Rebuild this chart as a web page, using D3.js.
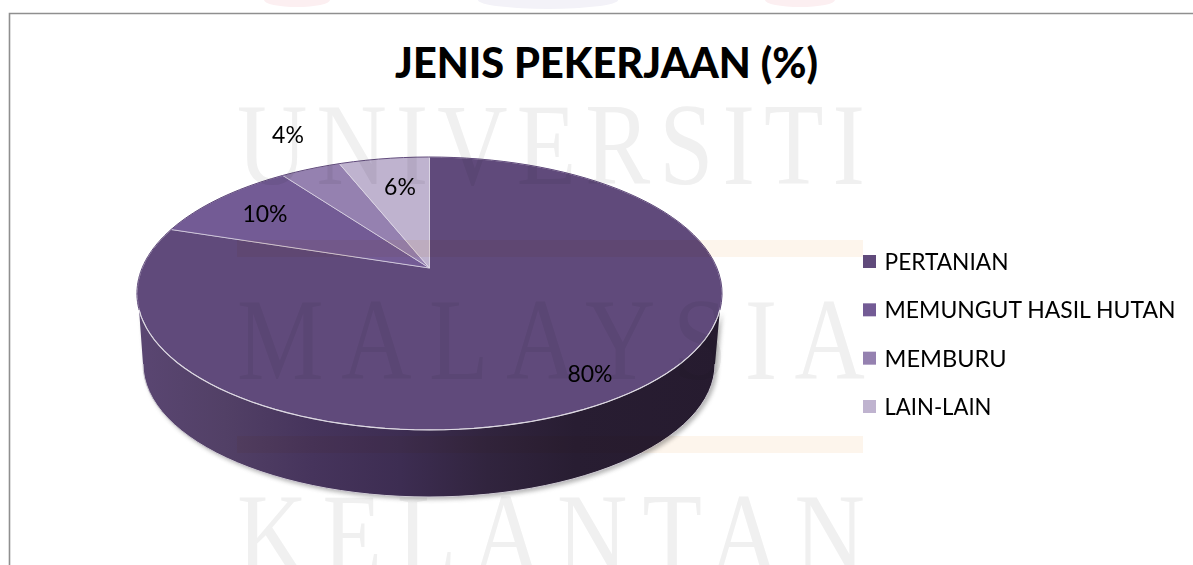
<!DOCTYPE html>
<html><head><meta charset="utf-8">
<script src="https://cdn.jsdelivr.net/npm/d3@7/dist/d3.min.js"></script>
<style>html,body{margin:0;padding:0;background:#fff;overflow:hidden}svg{display:block}</style>
</head><body><div id="c"></div>
<script>
const titleText = "JENIS PEKERJAAN (%)";
const categories = ["PERTANIAN","MEMUNGUT HASIL HUTAN","MEMBURU","LAIN-LAIN"];
const values = [80,10,4,6];
const colors = ["#604a7b","#735b95","#9581b0","#bfb3cf"];
const labelXY = [[590,373],[265,213],[288,134],[400,186]];
const watermark = ["UNIVERSITI","MALAYSIA","KELANTAN"];
const watermarkY = [184,379,574];

const W=1193,H=565;
const svg=d3.select("#c").append("svg").attr("width",W).attr("height",H).style("background","#fff");
const defs=svg.append("defs");

// perspective view of the pie's top disc
const cx=429.5, cy=268, k=0.1868, a=287.4, b=131.7;
const project=t=>{const u=Math.sin(t),v=Math.cos(t),d=1+k*v;return [cx+a*u/d, cy-b*v/d];};
const arcPts=(t0,t1)=>d3.range(0,61).map(i=>project(t0+(t1-t0)*i/60));
const line=d3.line();
const pie=d3.pie().sort(null).value(d=>d)(values);

// depth wall
const rad=d=>d*Math.PI/180;
const botCy=364, botRx=286, botRy=133;
const botPts=d3.range(0,61).map(i=>{const t=Math.PI*(1-i/60);return [cx-0.5+botRx*Math.cos(t),botCy+botRy*Math.sin(t)];});
const rimPts=arcPts(rad(252.5),rad(107.5));
const sidePath=line([...rimPts,...botPts.slice().reverse()])+"Z";

const grad=defs.append("linearGradient").attr("id","side").attr("gradientUnits","userSpaceOnUse")
  .attr("x1",137).attr("x2",722).attr("y1",0).attr("y2",0);
[[0,"#5a4672"],[.15,"#524066"],[.3,"#46345c"],[.45,"#3d2d52"],[.6,"#31243e"],[.75,"#281d32"],[1,"#261b2f"]]
 .forEach(s=>grad.append("stop").attr("offset",s[0]).attr("stop-color",s[1]));
const blur=defs.append("filter").attr("id","blur").attr("x","-10%").attr("y","-10%").attr("width","120%").attr("height","120%");
blur.append("feGaussianBlur").attr("stdDeviation",2.2);

// frame
svg.append("path").attr("d",`M9.5 565V13.5H1193`).attr("fill","none").attr("stroke","#8f8f8f").attr("stroke-width",1.6);

// title
svg.append("text").text(titleText).attr("text-anchor","middle")
  .attr("transform","translate(606.5,78)")
  .attr("font-family","Lato").attr("font-weight",900).attr("font-size",42)
  .attr("textLength",423).attr("lengthAdjust","spacingAndGlyphs").attr("fill","#000");

// pie
svg.append("path").attr("d",sidePath).attr("fill","#777").attr("opacity",.55).attr("filter","url(#blur)").attr("transform","translate(2.5,2.5)");
svg.append("path").attr("d",sidePath).attr("fill","url(#side)");
svg.append("path").attr("d",line(botPts)).attr("fill","none").attr("stroke","#cfcbd4").attr("stroke-width",1);
svg.append("g").selectAll("path").data(pie).join("path")
  .attr("d",d=>line([[cx,cy],...arcPts(d.startAngle,d.endAngle)])+"Z")
  .attr("fill",(d,i)=>colors[i]).attr("stroke","#e6e1ec").attr("stroke-width",0.8).attr("stroke-opacity",.8);
svg.append("path").attr("d",line(rimPts)).attr("fill","none").attr("stroke","#ddd9e2").attr("stroke-width",1.1);
// cover disc edge on top of the outer stroke
svg.append("path").attr("d",line(arcPts(rad(-72),rad(107.5)))).attr("fill","none").attr("stroke",colors[0]).attr("stroke-width",1);
svg.append("path").attr("d",line(arcPts(rad(252.5),rad(288)))).attr("fill","none").attr("stroke",colors[0]).attr("stroke-width",1);

// page watermark showing through
const wm=svg.append("g").style("mix-blend-mode","multiply");
[[240,257],[436,453]].forEach(r=>wm.append("rect").attr("x",237).attr("width",626).attr("y",r[0]).attr("height",r[1]-r[0]).attr("fill","#fdf5ec"));
const sx=0.84;
wm.selectAll("text").data(watermark).join("text").text(d=>d)
  .attr("transform",(d,i)=>`translate(237,${watermarkY[i]}) scale(${sx},1)`)
  .attr("font-family","Liberation Serif").attr("font-size",116)
  .attr("textLength",628/sx).attr("lengthAdjust","spacing").attr("fill","#f0f0f0");
[[297,33,7,"#fceff1"],[548,70,9,"#f3f2f8"],[800,35,7,"#fceff1"]].forEach(e=>
  wm.append("ellipse").attr("cx",e[0]).attr("cy",0).attr("rx",e[1]).attr("ry",e[2]).attr("fill",e[3]));

// labels
svg.append("g").selectAll("text").data(values).join("text")
  .text(d=>d+"%").attr("text-anchor","middle")
  .attr("x",(d,i)=>labelXY[i][0]).attr("y",(d,i)=>labelXY[i][1]+8.5)
  .attr("font-family","Lato").attr("font-size",23).attr("fill","#000");

// legend
const rowY=d3.scalePoint().domain(categories).range([261.5,406.5]);
const leg=svg.append("g").selectAll("g").data(categories).join("g").attr("transform",d=>`translate(0,${rowY(d)})`);
leg.append("rect").attr("x",863).attr("y",-6.5).attr("width",13).attr("height",13).attr("fill",(d,i)=>colors[i]);
const legW=[124,291,122,107];
leg.append("text").text(d=>d).attr("x",884.5).attr("y",8.5).attr("font-family","Lato").attr("font-size",23)
  .attr("textLength",(d,i)=>legW[i]).attr("lengthAdjust","spacingAndGlyphs").attr("fill","#000");
</script></body></html>
